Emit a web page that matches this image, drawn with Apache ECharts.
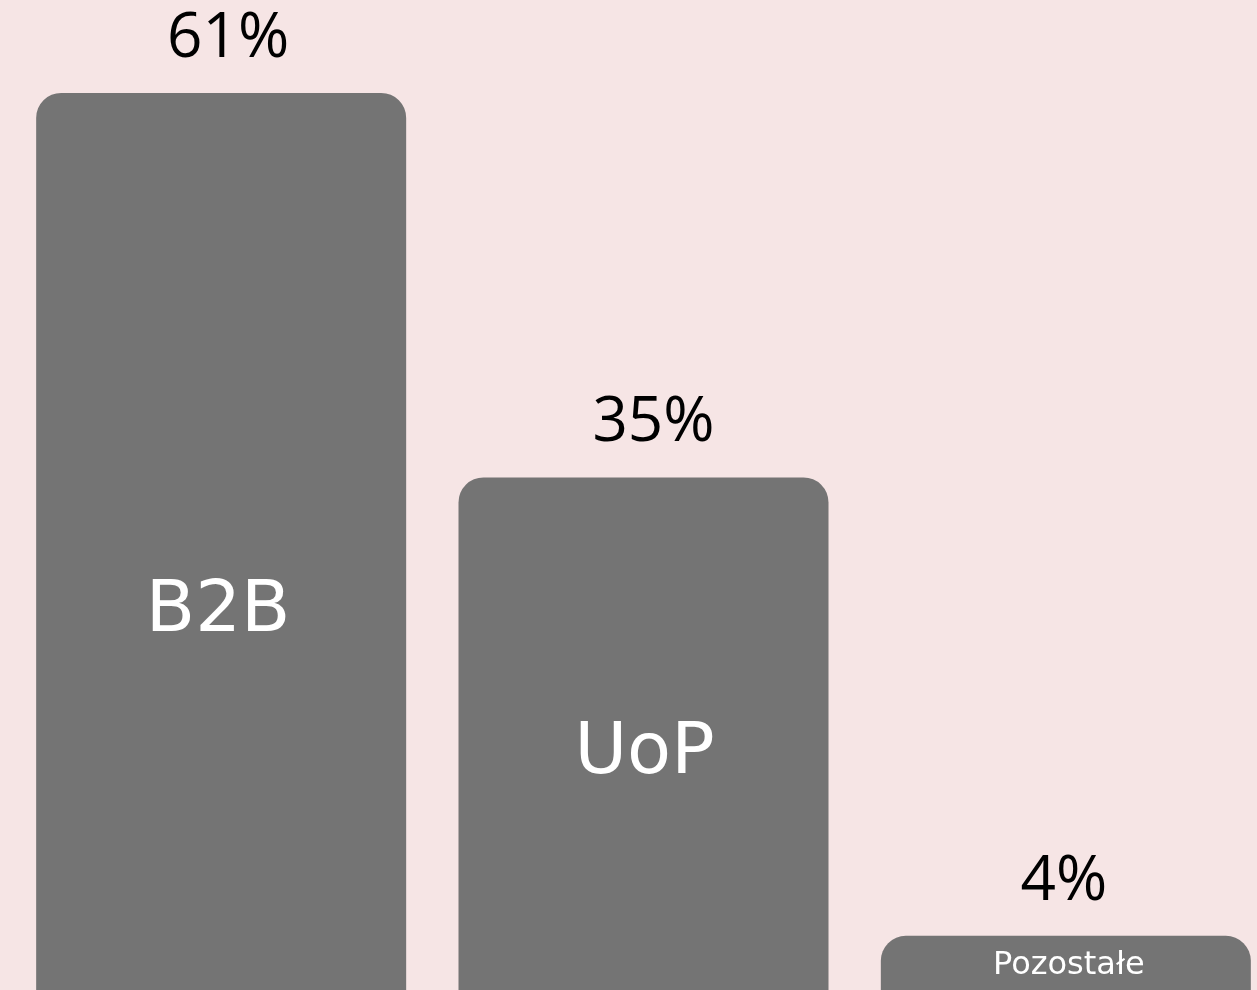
<!DOCTYPE html>
<html>
<head>
<meta charset="utf-8">
<script src="https://cdn.jsdelivr.net/npm/echarts@6/dist/echarts.min.js"></script>
<style>
html,body{margin:0;padding:0;background:#F6E5E5;overflow:hidden;width:1257px;height:990px;}
#chart{width:1278px;height:996px;}
</style>
</head>
<body>
<div id="chart"></div>
<script>
const categories = ['B2B', 'UoP', 'Pozostałe'];
const values = [61, 35, 4];
const valueLabels = ['61%', '35%', '4%'];

// label styling (not data)
const insideFontSizes = [72, 72, 32];
const insideOffsets = [[-3, 68], [1, 18], [3, 0]];
const topOffsets = [[7, 0], [10, 0], [-2, 0]];

const chart = echarts.init(document.getElementById('chart'), null, {renderer: 'canvas'});
const TOP_FONT = '"Open Sans", "Noto Sans", sans-serif';
const IN_FONT = '"DejaVu Sans", sans-serif';

const barData = values.map((v, i) => ({
  value: v,
  label: {
    show: true,
    position: 'inside',
    formatter: categories[i],
    color: '#ffffff',
    fontFamily: IN_FONT,
    fontSize: insideFontSizes[i],
    offset: insideOffsets[i]
  }
}));

const topData = values.map((v, i) => ({
  value: v,
  label: {offset: topOffsets[i]}
}));

chart.setOption({
  backgroundColor: '#F6E5E5',
  animation: false,
  grid: {left: 10, right: 1, top: 19, bottom: 1, containLabel: false},
  xAxis: {
    type: 'category',
    data: categories,
    axisLine: {show: false},
    axisTick: {show: false},
    axisLabel: {show: false},
    splitLine: {show: false}
  },
  yAxis: {
    type: 'value',
    min: 0,
    max: 66,
    show: false,
    splitLine: {show: false}
  },
  series: [
    {
      type: 'bar',
      data: barData,
      barWidth: 370,
      itemStyle: {color: '#747474', borderRadius: [25, 25, 0, 0]}
    },
    {
      type: 'bar',
      data: topData,
      barWidth: 370,
      barGap: '-100%',
      itemStyle: {color: 'transparent'},
      z: 3,
      label: {
        show: true,
        position: 'top',
        distance: 23,
        color: '#000000',
        fontFamily: TOP_FONT,
        fontSize: 62,
        formatter: p => valueLabels[p.dataIndex]
      }
    }
  ]
});
</script>
</body>
</html>
